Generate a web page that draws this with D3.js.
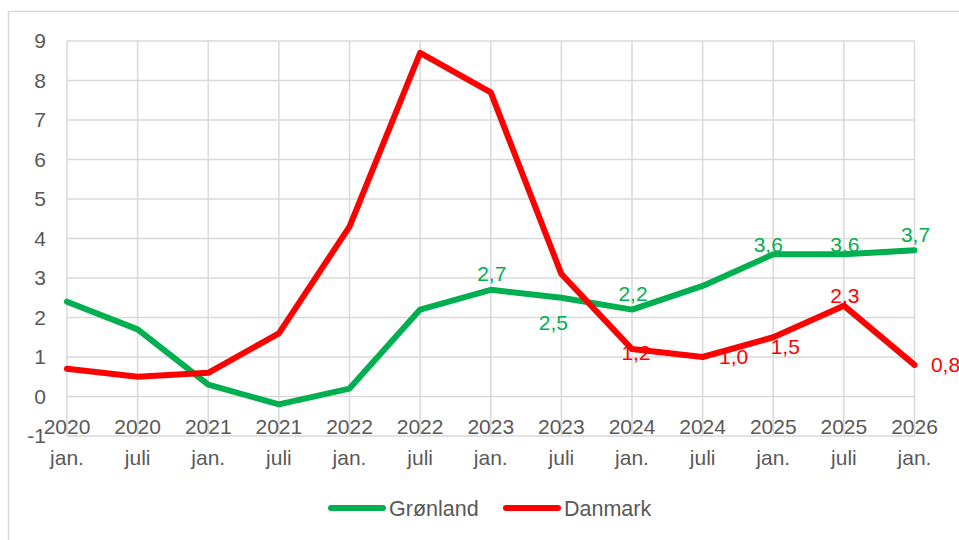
<!DOCTYPE html>
<html>
<head>
<meta charset="utf-8">
<script src="https://cdn.jsdelivr.net/npm/d3@7"></script>
<style>
  body { margin: 0; background: #fff; }
  svg { font-family: "Liberation Sans", Arial, sans-serif; }
</style>
</head>
<body>
<div id="chart"></div>
<script>
// data
var years = ['2020', '2020', '2021', '2021', '2022', '2022', '2023', '2023', '2024', '2024', '2025', '2025', '2026'];
var months = ['jan.', 'juli', 'jan.', 'juli', 'jan.', 'juli', 'jan.', 'juli', 'jan.', 'juli', 'jan.', 'juli', 'jan.'];
var gronland = [2.4, 1.7, 0.3, -0.2, 0.2, 2.2, 2.7, 2.5, 2.2, 2.8, 3.6, 3.6, 3.7];
var danmark = [0.7, 0.5, 0.6, 1.6, 4.3, 8.7, 7.7, 3.1, 1.2, 1.0, 1.5, 2.3, 0.8];
var yTicks = [-1, 0, 1, 2, 3, 4, 5, 6, 7, 8, 9];

// which points carry a data label, and where it goes
var gronlandLabels = [null, null, null, null, null, null, 'above', 'belowLeft', 'above', null, 'aboveLeft', 'aboveTight', 'above'];
var danmarkLabels = [null, null, null, null, null, null, null, null, 'center', 'right', 'belowRight', 'aboveTight', 'right'];

var placement = {
    above: [1, -16],
    aboveTight: [1, -10],
    aboveLeft: [-5, -10],
    belowLeft: [-8, 25],
    belowRight: [12, 9],
    center: [4, 4],
    right: [31, 0]
};

var width = 959, height = 540;

var svg = d3.select('#chart')
    .append('svg')
    .attr('width', width)
    .attr('height', height);

// chart frame
svg.append('rect')
    .attr('x', 8.5)
    .attr('y', 11.5)
    .attr('width', 1000)
    .attr('height', 600)
    .attr('fill', 'none')
    .attr('stroke', '#d9d9d9')
    .attr('stroke-width', 1.5);

var x = d3.scalePoint()
    .domain(d3.range(years.length))
    .range([67, 914.5]);

var y = d3.scaleLinear()
    .domain([-1, 9])
    .range([436, 41]);

// horizontal gridlines
svg.append('g')
    .selectAll('line')
    .data(yTicks)
    .enter()
    .append('line')
    .attr('x1', x(0))
    .attr('x2', x(years.length - 1))
    .attr('y1', function (d) { return y(d); })
    .attr('y2', function (d) { return y(d); })
    .attr('stroke', '#d9d9d9')
    .attr('stroke-width', 1.5);

// vertical gridlines
svg.append('g')
    .selectAll('line')
    .data(d3.range(years.length))
    .enter()
    .append('line')
    .attr('x1', function (d) { return x(d); })
    .attr('x2', function (d) { return x(d); })
    .attr('y1', y(9))
    .attr('y2', y(-1))
    .attr('stroke', '#d9d9d9')
    .attr('stroke-width', 1.5);

// y axis labels
svg.append('g')
    .selectAll('text')
    .data(yTicks)
    .enter()
    .append('text')
    .attr('x', 46)
    .attr('y', function (d) { return y(d); })
    .attr('dy', '0.35em')
    .attr('text-anchor', 'end')
    .style('font-size', '21px')
    .style('fill', '#595959')
    .text(function (d) { return d; });

// x axis labels (year over month)
var xl = svg.append('g')
    .selectAll('g')
    .data(d3.range(years.length))
    .enter()
    .append('g');

xl.append('text')
    .attr('x', function (d) { return x(d); })
    .attr('y', 427)
    .attr('dy', '0.35em')
    .attr('text-anchor', 'middle')
    .style('font-size', '21px')
    .style('fill', '#595959')
    .text(function (d) { return years[d]; });

xl.append('text')
    .attr('x', function (d) { return x(d); })
    .attr('y', 458)
    .attr('dy', '0.35em')
    .attr('text-anchor', 'middle')
    .style('font-size', '21px')
    .style('fill', '#595959')
    .text(function (d) { return months[d]; });

var line = d3.line()
    .x(function (d, i) { return x(i); })
    .y(function (d) { return y(d); });

var series = [
    { name: 'Grønland', values: gronland, labels: gronlandLabels, color: '#00b050' },
    { name: 'Danmark', values: danmark, labels: danmarkLabels, color: '#ff0000' }
];

series.forEach(function (s) {
    svg.append('path')
        .datum(s.values)
        .attr('d', line)
        .attr('fill', 'none')
        .attr('stroke', s.color)
        .attr('stroke-width', 6)
        .attr('stroke-linejoin', 'round')
        .attr('stroke-linecap', 'round');
});

var fmt = function (v) { return d3.format('.1f')(v).replace('.', ','); };

series.forEach(function (s) {
    svg.append('g')
        .selectAll('text')
        .data(s.values.map(function (v, i) { return { v: v, i: i, pos: s.labels[i] }; })
            .filter(function (d) { return d.pos; }))
        .enter()
        .append('text')
        .attr('x', function (d) { return x(d.i) + placement[d.pos][0]; })
        .attr('y', function (d) { return y(d.v) + placement[d.pos][1]; })
        .attr('dy', '0.35em')
        .attr('text-anchor', 'middle')
        .style('font-size', '21px')
        .style('fill', s.color)
        .text(function (d) { return fmt(d.v); });
});

// legend
var legend = svg.append('g')
    .selectAll('g')
    .data(series)
    .enter()
    .append('g')
    .attr('transform', function (d, i) { return 'translate(' + (331 + i * 175) + ',508)'; });

legend.append('line')
    .attr('x1', 0)
    .attr('x2', 52)
    .attr('stroke', function (d) { return d.color; })
    .attr('stroke-width', 6)
    .attr('stroke-linecap', 'round');

legend.append('text')
    .attr('x', 58)
    .attr('dy', '0.35em')
    .style('font-size', '21.5px')
    .style('fill', '#595959')
    .text(function (d) { return d.name; });
</script>
</body>
</html>
